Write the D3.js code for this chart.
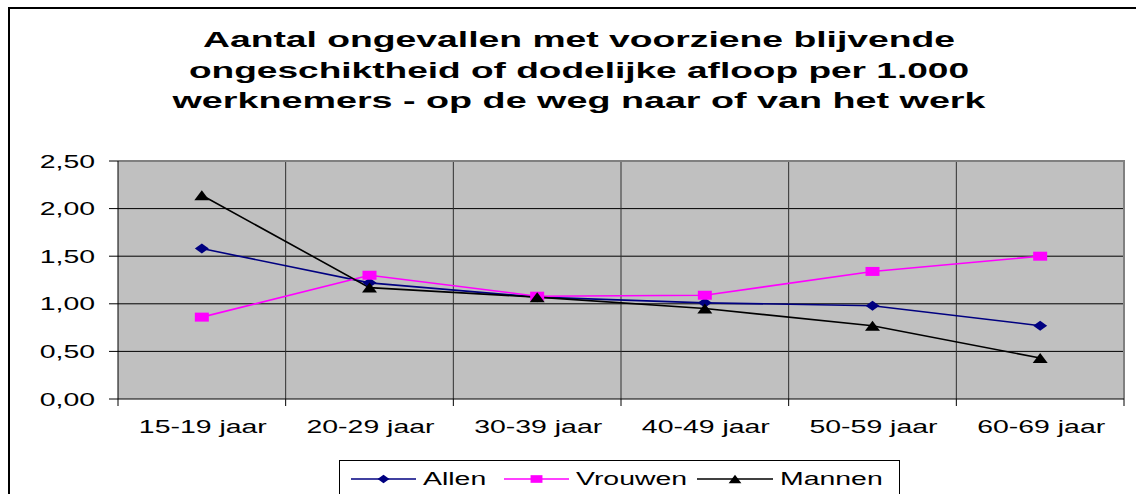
<!DOCTYPE html>
<html><head><meta charset="utf-8">
<script src="https://cdn.jsdelivr.net/npm/d3@7"></script>
<style>body{margin:0;background:#fff}svg{display:block;font-family:"Liberation Sans",Arial,sans-serif}</style>
</head><body>
<svg id="c" width="1136" height="494"></svg>
<script>
const titleLines = ["Aantal ongevallen met voorziene blijvende","ongeschiktheid of dodelijke afloop per 1.000","werknemers - op de weg naar of van het werk"];
const categories = ["15-19 jaar","20-29 jaar","30-39 jaar","40-49 jaar","50-59 jaar","60-69 jaar"];
const allen   = [1.58,1.22,1.07,1.01,0.98,0.77];
const vrouwen = [0.86,1.30,1.08,1.09,1.34,1.50];
const mannen  = [2.14,1.17,1.07,0.95,0.77,0.43];
const yTicks = [0,0.5,1,1.5,2,2.5];
const yTickLabels = ["0,00","0,50","1,00","1,50","2,00","2,50"];
const seriesNames = ["Allen","Vrouwen","Mannen"];

const series = [
  {name:seriesNames[0], values:allen, color:"#000080", marker:"diamond"},
  {name:seriesNames[1], values:vrouwen, color:"#FF00FF", marker:"square"},
  {name:seriesNames[2], values:mannen, color:"#000000", marker:"triangle"}
];
const SX = 1.58;
const svg = d3.select("#c");
const L=118, R=1124, T=161, B=399;
const x = d3.scaleBand().domain(categories).range([L,R]);
const y = d3.scaleLinear().domain([0,2.5]).range([B,T]);

// outer border
svg.append("path").attr("d","M9,494 V8 H1136").attr("fill","none").attr("stroke","#000").attr("stroke-width",2);

// title
const titleW = [752,780,813];
titleLines.forEach((t,i)=>{
  tg = svg.append("text").attr("x",579).attr("y",47+i*30.5)
    .attr("text-anchor","middle").attr("font-weight","bold").attr("font-size",22.5)
    .attr("textLength",titleW[i]).attr("lengthAdjust","spacingAndGlyphs").text(t);
});

// plot bg
svg.append("rect").attr("x",L).attr("y",T).attr("width",R-L).attr("height",B-T).attr("fill","#C0C0C0");
// horizontal gridlines
svg.append("g").selectAll("line").data(yTicks.slice(1)).join("line")
  .attr("x1",L).attr("x2",R).attr("y1",d=>y(d)).attr("y2",d=>y(d)).attr("stroke","#000").attr("stroke-width",1);
// vertical gridlines at category boundaries
const bounds = categories.map(c=>x(c)).concat([R]);
svg.append("g").selectAll("line").data(bounds.slice(1,-1)).join("line")
  .attr("x1",d=>d).attr("x2",d=>d).attr("y1",T).attr("y2",B).attr("stroke","#303030").attr("stroke-width",1);
// plot border top/right grey
svg.append("path").attr("d",`M${L},${T} H${R} V${B}`).attr("fill","none").attr("stroke","#808080").attr("stroke-width",2);

// axes
svg.append("line").attr("x1",L).attr("x2",L).attr("y1",T).attr("y2",B).attr("stroke","#000");
svg.append("line").attr("x1",L).attr("x2",R).attr("y1",B).attr("y2",B).attr("stroke","#000");
svg.append("g").selectAll("line").data(yTicks).join("line")
  .attr("x1",L-9).attr("x2",L).attr("y1",d=>y(d)).attr("y2",d=>y(d)).attr("stroke","#000");
svg.append("g").selectAll("line").data(bounds).join("line")
  .attr("x1",d=>d).attr("x2",d=>d).attr("y1",B).attr("y2",B+7).attr("stroke","#000");
svg.append("g").selectAll("text").data(yTicks).join("text")
  .attr("transform",d=>`translate(95,${y(d)+6.5}) scale(${SX},1)`).attr("text-anchor","end")
  .attr("font-size",18).text((d,i)=>yTickLabels[i]);
svg.append("g").selectAll("text").data(categories).join("text")
  .attr("transform",d=>`translate(${x(d)+x.bandwidth()/2+1},${433}) scale(${SX},1)`).attr("text-anchor","middle")
  .attr("font-size",18).text(d=>d);

function markerPath(type){
  if(type==="diamond") return "M-7,0 L0,-5 L7,0 L0,5 Z";
  if(type==="square") return "M-7,-4.5 H7 V4.5 H-7 Z";
  return "M-7.5,5 L0,-5 L7.5,5 Z";
}
const line = d3.line().x((d,i)=>x(categories[i])+x.bandwidth()/2).y(d=>y(d));
series.forEach(s=>{
  svg.append("path").attr("d",line(s.values)).attr("fill","none").attr("stroke",s.color).attr("stroke-width",1.6);
});
series.forEach(s=>{
  svg.append("g").selectAll("path").data(s.values).join("path")
    .attr("transform",(d,i)=>`translate(${x(categories[i])+x.bandwidth()/2},${y(d)})`)
    .attr("d",markerPath(s.marker)).attr("fill",s.color);
});

// legend
svg.append("rect").attr("x",339.5).attr("y",460.5).attr("width",560).attr("height",60).attr("fill","#fff").attr("stroke","#000");
const legX = [351,504,697];
const legW = [65,65,76];
series.forEach((s,i)=>{
  const g = svg.append("g");
  g.append("line").attr("x1",legX[i]).attr("x2",legX[i]+legW[i]).attr("y1",479).attr("y2",479).attr("stroke",s.color).attr("stroke-width",1.3);
  g.append("path").attr("transform",`translate(${legX[i]+legW[i]/2},479) scale(0.85)`).attr("d",markerPath(s.marker)).attr("fill",s.color);
  g.append("text").attr("transform",`translate(${legX[i]+legW[i]+7},485) scale(${SX},1)`).attr("font-size",18).text(s.name);
});
</script>
</body></html>
